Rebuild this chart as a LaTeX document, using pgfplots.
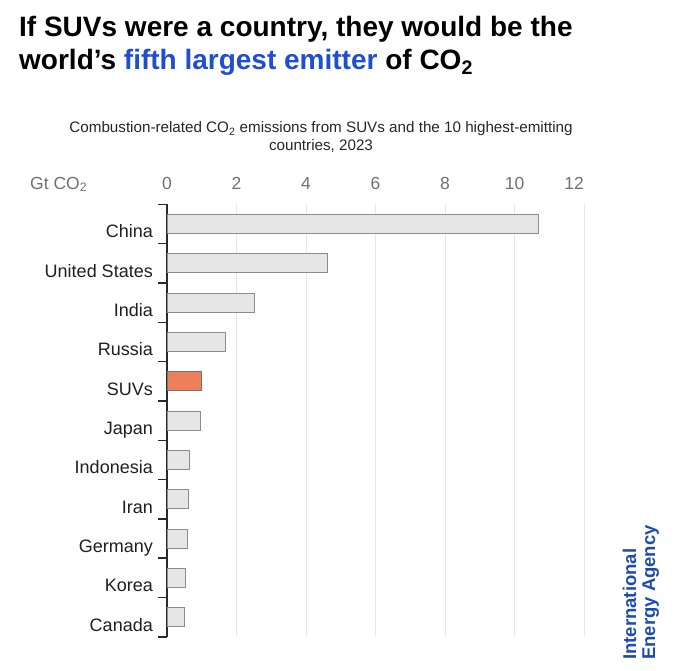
\documentclass[border=0pt]{standalone}
\usepackage{fontspec}
\setmainfont{Liberation Sans}
\usepackage{pgfplots}
\pgfplotsset{compat=1.18}
\definecolor{titleblue}{HTML}{1F4FCF}
\definecolor{logoblue}{HTML}{1E4AB5}
\definecolor{barfill}{HTML}{E6E6E6}
\definecolor{barline}{HTML}{8C8C8C}
\definecolor{suv}{HTML}{EE7F5B}
\definecolor{gridc}{HTML}{E8E8E8}
\definecolor{labgray}{HTML}{707070}
\definecolor{axisc}{HTML}{2A2A2A}
\begin{document}
\begin{tikzpicture}[x=1bp,y=1bp]
\path[use as bounding box] (0,0) rectangle (680,-671);
% titles
\node[anchor=base west, inner sep=0, font=\fontsize{28bp}{32bp}\selectfont\bfseries] at (19,-36.7) {If SUVs were a country, they would be the};
\node[anchor=base west, inner sep=0, font=\fontsize{28bp}{32bp}\selectfont\bfseries] at (19,-69.3) {world’s \textcolor{titleblue}{fifth largest emitter} of CO\textsubscript{2}};
\node[anchor=base, inner sep=0, font=\fontsize{15.2bp}{17bp}\selectfont, text=black!85] at (321,-132.7) {Combustion-related CO\textsubscript{2} emissions from SUVs and the 10 highest-emitting};
\node[anchor=base, inner sep=0, font=\fontsize{15.2bp}{17bp}\selectfont, text=black!85] at (321,-150) {countries, 2023};
\node[anchor=base west, inner sep=0, font=\fontsize{17.5bp}{20bp}\selectfont, text=labgray] at (30,-189) {Gt CO\textsubscript{2}};
% logo
\node[rotate=90, anchor=base west, inner sep=0, font=\fontsize{18.5bp}{20bp}\selectfont\bfseries, text=logoblue] at (636,-660) {International};
\node[rotate=90, anchor=base west, inner sep=0, font=\fontsize{18.5bp}{20bp}\selectfont\bfseries, text=logoblue] at (655,-660) {Energy Agency};
\begin{axis}[
  at={(167bp,-636.8bp)}, anchor=south west,
  scale only axis, width=417bp, height=432.5bp,
  xmin=0, xmax=12, ymin=-0.5, ymax=10.5,
  axis x line*=top, axis y line*=left,
  x axis line style={draw=none},
  y axis line style={draw=axisc, line width=1.4bp},
  xtick={0,2,4,6,8,10,12},
  xticklabels={0,2,4,6,8,10,12\hspace*{20bp}},
  xmajorgrids, grid style={gridc, line width=1bp},
  major tick length=0pt,
  major x tick style={draw=none},
  major y tick style={draw=none},
  xticklabel style={anchor=base, inner sep=0pt, font=\fontsize{17.5bp}{20bp}\selectfont, text=labgray},
  xticklabel shift=15.3bp,
  ytick={0,1,2,3,4,5,6,7,8,9,10},
  yticklabels={Canada,Korea,Germany,Iran,Indonesia,Japan,SUVs,Russia,India,United States,China},
  yticklabel style={anchor=base east, inner sep=0pt, yshift=-14bp, font=\fontsize{18bp}{20bp}\selectfont, text=black!88},
  yticklabel shift=14bp,
  minor ytick={-0.5,0.5,...,10.5},
  minor tick length=9bp, tick align=outside,
  minor y tick style={draw=axisc, line width=1.4bp},
]
\addplot[xbar, bar width=19bp, bar shift=0pt, fill=barfill, draw=barline, line width=1bp]
  coordinates {(10.68,10) (4.62,9) (2.53,8) (1.69,7) (0.96,5) (0.66,4) (0.62,3) (0.59,2) (0.535,1) (0.51,0)};
\addplot[xbar, bar width=19bp, bar shift=0pt, fill=suv, draw=black!55, line width=1bp]
  coordinates {(0.99,6)};
\end{axis}
\end{tikzpicture}
\end{document}
